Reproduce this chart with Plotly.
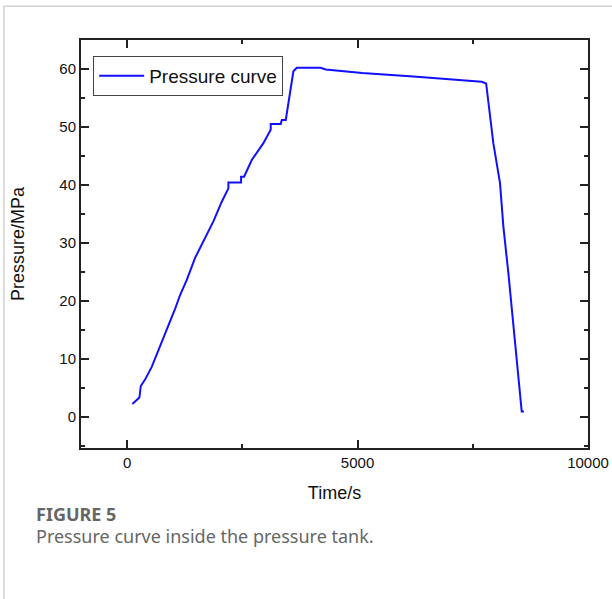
import plotly.graph_objects as go

time_s = [115, 267, 297, 390, 535, 716, 897, 1041, 1150, 1295, 1475, 1692, 1872, 2054,
          2198, 2198, 2473, 2473, 2538, 2705, 2957, 3116, 3116, 3334, 3356, 3443, 3521,
          3608, 3681, 4200, 4310, 5100, 6211, 7223, 7694, 7790, 7860, 7946, 8091, 8164,
          8272, 8380, 8525, 8562, 8612]
pressure_mpa = [2.2, 3.3, 5.3, 6.4, 8.6, 12.1, 15.9, 18.6, 21.0, 23.6, 27.4, 30.8, 33.7, 37.1,
                39.4, 40.4, 40.4, 41.4, 41.4, 44.3, 47.2, 49.5, 50.5, 50.5, 51.2, 51.2, 55.5,
                59.6, 60.2, 60.2, 59.9, 59.3, 58.7, 58.1, 57.8, 57.5, 52.9, 47.2, 40.3, 32.8,
                24.8, 15.6, 4.1, 0.9, 0.9]

x_ticks = [0, 5000, 10000]
y_ticks = [0, 10, 20, 30, 40, 50, 60]

fig = go.Figure()
fig.add_trace(go.Scatter(x=time_s, y=pressure_mpa, mode="lines", name="Pressure curve",
                         line=dict(color="#1010ff", width=2)))

axis_common = dict(showline=True, linecolor="#222", linewidth=2, mirror="allticks",
                   ticks="inside", tickcolor="#222", tickwidth=2, ticklen=8,
                   showgrid=False, zeroline=False, automargin=False,
                   tickfont=dict(family="Liberation Sans, Arial", size=15, color="#111"))

fig.update_layout(
    width=612, height=599,
    margin=dict(l=81, r=24, t=40, b=151),
    paper_bgcolor="white", plot_bgcolor="white",
    showlegend=True,
    legend=dict(x=0.024, y=0.961, xanchor="left", yanchor="top",
                bordercolor="#444", borderwidth=1, bgcolor="white",
                font=dict(family="Liberation Sans, Arial", size=19, color="#111"),
                itemwidth=45, tracegroupgap=0),
    xaxis=dict(range=[-1000, 10000], tickvals=x_ticks, ticktext=[str(v) for v in x_ticks],
               minor=dict(dtick=2500, tick0=0, ticks="inside", ticklen=4, tickwidth=2, tickcolor="#222"),
               title=dict(text="Time/s", font=dict(family="Liberation Sans, Arial", size=18, color="#111"),
                          standoff=16),
               **axis_common),
    yaxis=dict(range=[-5.4, 65], tickvals=y_ticks, ticktext=[str(v) for v in y_ticks],
               minor=dict(dtick=5, tick0=0, ticks="inside", ticklen=4, tickwidth=2, tickcolor="#222"),
               title=dict(text="Pressure/MPa", font=dict(family="Liberation Sans, Arial", size=18, color="#111"),
                          standoff=30),
               **axis_common),
    shapes=[dict(type="rect", xref="paper", yref="paper",
                 x0=-0.152, x1=1.3, y0=-0.6, y1=1.083,
                 line=dict(color="#d0d0d0", width=1.5), layer="below")],
    annotations=[
        dict(text="<b>FIGURE 5</b>", xref="paper", yref="paper", x=-0.093, y=-0.162,
             xanchor="left", yanchor="middle", showarrow=False,
             font=dict(family="Noto Sans, Open Sans", size=18, color="#666")),
        dict(text="Pressure curve inside the pressure tank.", xref="paper", yref="paper",
             x=-0.093, y=-0.216, xanchor="left", yanchor="middle", showarrow=False,
             font=dict(family="Noto Sans, Open Sans", size=18, color="#666")),
    ],
)

fig.write_html("out.html")
